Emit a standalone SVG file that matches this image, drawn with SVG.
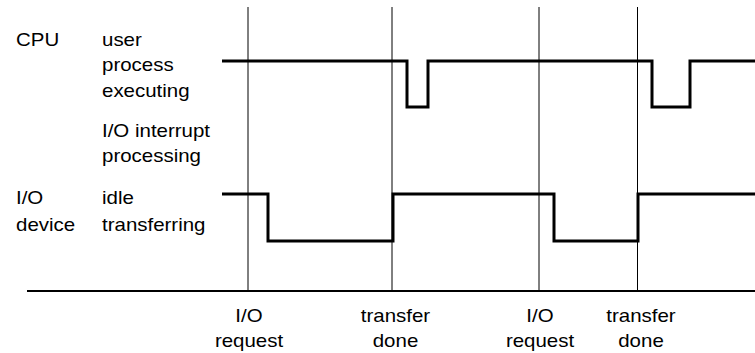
<svg xmlns="http://www.w3.org/2000/svg" width="755" height="353" viewBox="0 0 755 353">
<style>
text{font-family:"Liberation Sans",Arial,Helvetica,sans-serif;font-size:17.5px;fill:#000}
.m{text-anchor:middle}
.grid{stroke:#000;stroke-width:1;fill:none}
.axis{stroke:#000;stroke-width:2;fill:none}
.wave{stroke:#000;stroke-width:3;fill:none;stroke-linejoin:miter;stroke-linecap:butt}
</style>
<rect width="755" height="353" fill="#fff"/>
<g id="labels-left">
<text transform="translate(16,45.5) scale(1.17,1)">CPU</text>
<text transform="translate(102,45.5) scale(1.17,1)">user</text>
<text transform="translate(102,71) scale(1.17,1)">process</text>
<text transform="translate(102,97) scale(1.17,1)">executing</text>
<text transform="translate(102,136.5) scale(1.17,1)">I/O interrupt</text>
<text transform="translate(102,161.5) scale(1.17,1)">processing</text>
<text transform="translate(16,204) scale(1.17,1)">I/O</text>
<text transform="translate(16,230.5) scale(1.17,1)">device</text>
<text transform="translate(102,204) scale(1.17,1)">idle</text>
<text transform="translate(102,230.5) scale(1.17,1)">transferring</text>
</g>
<g id="connectors">
<line class="grid" x1="248" y1="7" x2="248" y2="291"/>
<line class="grid" x1="392" y1="7" x2="392" y2="291"/>
<line class="grid" x1="539" y1="7" x2="539" y2="291"/>
<line class="grid" x1="637.5" y1="7" x2="637.5" y2="291"/>
<line class="axis" x1="27" y1="291" x2="755" y2="291"/>
</g>
<g id="cpu-wave">
<polyline class="wave" points="222,61 407,61 407,107 428,107 428,61 652,61 652,107 690,107 690,61 755,61"/>
</g>
<g id="io-wave">
<polyline class="wave" points="222,194 268,194 268,241 393,241 393,194 554,194 554,241 638,241 638,194 755,194"/>
</g>
<g id="events">
<g id="ev1"><text class="m" transform="translate(249,322) scale(1.17,1)">I/O</text><text class="m" transform="translate(249,346.5) scale(1.17,1)">request</text></g>
<g id="ev2"><text class="m" transform="translate(395.5,322) scale(1.17,1)">transfer</text><text class="m" transform="translate(395.5,346.5) scale(1.17,1)">done</text></g>
<g id="ev3"><text class="m" transform="translate(540,322) scale(1.17,1)">I/O</text><text class="m" transform="translate(540,346.5) scale(1.17,1)">request</text></g>
<g id="ev4"><text class="m" transform="translate(641,322) scale(1.17,1)">transfer</text><text class="m" transform="translate(641,346.5) scale(1.17,1)">done</text></g>
</g>
</svg>
